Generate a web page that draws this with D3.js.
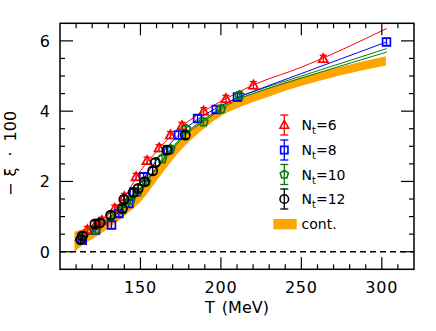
<!DOCTYPE html>
<html><head><meta charset="utf-8">
<script src="https://cdn.jsdelivr.net/npm/d3@7"></script>
<style>body{margin:0;background:#fff}svg{display:block}text{font-family:"DejaVu Sans",sans-serif}</style>
</head><body><svg id="c" width="436" height="331"></svg>
<script>
// ---- data ----
const xTicks = [150, 200, 250, 300];
const yTicks = [0, 2, 4, 6];

const T6  = [112.5, 117, 122, 126, 134, 140, 147.3, 154.1, 161.6, 168.6, 175.8, 189.3, 203.1, 220.2, 263.6];
const v6  = [0.42, 0.62, 0.75, 0.88, 1.23, 1.56, 2.13, 2.59, 2.95, 3.32, 3.58, 4.00, 4.35, 4.74, 5.49];
const e6  = [0.10, 0.10, 0.10, 0.10, 0.10, 0.10, 0.10, 0.10, 0.10, 0.10, 0.10, 0.10, 0.10, 0.10, 0.10];

const T8  = [113.8, 122.1, 132, 136.6, 142.8, 146, 152, 167, 173.7, 185.5, 197.1, 210.3, 302.9];
const v8  = [0.33, 0.62, 0.76, 1.09, 1.37, 1.70, 2.13, 2.90, 3.32, 3.79, 4.05, 4.40, 5.97];
const e8  = [0.10, 0.10, 0.10, 0.10, 0.10, 0.10, 0.10, 0.10, 0.10, 0.10, 0.10, 0.10, 0.10];

const T10 = [113, 122, 131.4, 139, 143.8, 148.3, 153.5, 163.4, 168.6, 178.3, 189.2, 200, 211.5];
const v10 = [0.33, 0.62, 1.01, 1.20, 1.47, 1.70, 1.99, 2.64, 2.92, 3.49, 3.69, 4.06, 4.45];
const e10 = [0.10, 0.10, 0.10, 0.10, 0.10, 0.10, 0.10, 0.10, 0.10, 0.10, 0.10, 0.10, 0.10];

const T12 = [112.9, 114, 121.7, 124.8, 131.5, 138.7, 139.7, 145.5, 148.6, 152.5, 157.6, 159.3, 166.5, 177.9];
const v12 = [0.35, 0.45, 0.79, 0.82, 1.04, 1.23, 1.49, 1.68, 1.80, 1.99, 2.30, 2.54, 2.89, 3.32];
const e12 = [0.10, 0.10, 0.10, 0.10, 0.10, 0.10, 0.10, 0.10, 0.10, 0.10, 0.10, 0.10, 0.10, 0.10];

// fit curves (knots)
const fitT    = [110, 120, 130, 140, 150, 160, 170, 180, 190, 200, 210, 220, 250, 303];
const fit6    = [0.35, 0.70, 1.05, 1.55, 2.30, 2.85, 3.35, 3.72, 4.02, 4.28, 4.52, 4.74, 5.25, 6.35];
const fit8    = [0.25, 0.55, 0.85, 1.30, 1.95, 2.60, 3.15, 3.58, 3.90, 4.15, 4.38, 4.56, 5.07, 5.97];
const fit10a  = [0.30, 0.58, 0.95, 1.32, 1.82, 2.40, 2.98, 3.45, 3.78, 4.10, 4.38, 4.55, 5.00, 5.78];
const fit10b  = [0.28, 0.55, 0.92, 1.28, 1.77, 2.35, 2.93, 3.40, 3.73, 4.05, 4.33, 4.50, 4.94, 5.68];

// continuum band
const bandT  = [109, 115, 120, 130, 140, 150, 160, 170, 180, 190, 200, 210, 230, 250, 275, 302.5];
const bandLo = [0.00, 0.22, 0.36, 0.66, 1.02, 1.42, 2.02, 2.62, 3.12, 3.52, 3.86, 4.08, 4.42, 4.72, 5.03, 5.30];
const bandHi = [0.57, 0.66, 0.75, 1.00, 1.38, 1.82, 2.42, 2.98, 3.43, 3.78, 4.10, 4.33, 4.67, 4.97, 5.27, 5.56];

const legendLabels = ["6", "8", "10", "12"];
const contLabel = "cont.";

// ---- drawing ----
const svg = d3.select("#c");
const x = d3.scaleLinear().domain([100, 320]).range([60, 414]);
const y = d3.scaleLinear().domain([-0.5, 6.5]).range([269.3, 23.3]);

const RED = "#ff0000", BLUE = "#0000ff", GREEN = "#0a7a0a", BLACK = "#000000", ORANGE = "#ffa500";

// band
const bandData = bandT.map((t, i) => ({t, lo: bandLo[i], hi: bandHi[i]}));
svg.append("path").datum(bandData)
  .attr("d", d3.area().x(d => x(d.t)).y0(d => y(d.lo)).y1(d => y(d.hi)).curve(d3.curveMonotoneX))
  .attr("fill", ORANGE);

// zero dashed line
svg.append("line").attr("x1", x(100)).attr("x2", x(320)).attr("y1", y(0)).attr("y2", y(0))
  .attr("stroke", "#000").attr("stroke-width", 1.5).attr("stroke-dasharray", "6,4");

// fit lines
const lineGen = d3.line().x((d, i) => x(fitT[i])).y(d => y(d)).curve(d3.curveMonotoneX);
[[fit10b, GREEN], [fit10a, GREEN], [fit8, BLUE], [fit6, RED]].forEach(([arr, c]) => {
  svg.append("path").datum(arr).attr("d", lineGen).attr("fill", "none").attr("stroke", c).attr("stroke-width", 1);
});

// marker shapes
function markerPath(kind, r) {
  if (kind === "tri") return `M0,${-r*1.05}L${r*1.0},${r*0.75}L${-r*1.0},${r*0.75}Z`;
  if (kind === "sq") return `M${-r*0.85},${-r*0.85}h${r*1.7}v${r*1.7}h${-r*1.7}Z`;
  if (kind === "pent") {
    let p = "";
    for (let k = 0; k < 5; k++) {
      const a = -Math.PI/2 + k*2*Math.PI/5;
      p += (k ? "L" : "M") + (r*Math.cos(a)).toFixed(2) + "," + (r*Math.sin(a)).toFixed(2);
    }
    return p + "Z";
  }
  return d3.arc()({innerRadius: 0, outerRadius: r, startAngle: 0, endAngle: 2*Math.PI});
}

function drawSeries(Ts, vs, es, color, kind) {
  const g = svg.append("g");
  Ts.forEach((t, i) => {
    const cx = x(t), cy = y(vs[i]), top = y(vs[i] + es[i]), bot = y(vs[i] - es[i]);
    g.append("line").attr("x1", cx).attr("x2", cx).attr("y1", top).attr("y2", bot).attr("stroke", color).attr("stroke-width", 1.3);
    g.append("line").attr("x1", cx-3.5).attr("x2", cx+3.5).attr("y1", top).attr("y2", top).attr("stroke", color).attr("stroke-width", 1.3);
    g.append("line").attr("x1", cx-3.5).attr("x2", cx+3.5).attr("y1", bot).attr("y2", bot).attr("stroke", color).attr("stroke-width", 1.3);
    g.append("path").attr("d", markerPath(kind, 4.6)).attr("transform", `translate(${cx},${cy})`)
      .attr("fill", "none").attr("stroke", color).attr("stroke-width", 1.7);
  });
}
drawSeries(T6, v6, e6, RED, "tri");
drawSeries(T8, v8, e8, BLUE, "sq");
drawSeries(T10, v10, e10, GREEN, "pent");
drawSeries(T12, v12, e12, BLACK, "circ");

// frame
svg.append("rect").attr("x", x(100)).attr("y", y(6.5)).attr("width", x(320)-x(100)).attr("height", y(-0.5)-y(6.5))
  .attr("fill", "none").attr("stroke", "#000").attr("stroke-width", 1.5);

// ticks (inward, mirrored)
const tk = svg.append("g").attr("stroke", "#000").attr("stroke-width", 1.2);
d3.range(110, 320, 10).forEach(t => {
  const L = xTicks.includes(t) ? 12 : 5;
  tk.append("line").attr("x1", x(t)).attr("x2", x(t)).attr("y1", y(-0.5)).attr("y2", y(-0.5)-L);
  tk.append("line").attr("x1", x(t)).attr("x2", x(t)).attr("y1", y(6.5)).attr("y2", y(6.5)+L);
});
d3.range(0, 6.5, 0.5).forEach(v => {
  const L = yTicks.includes(v) ? 13 : 5;
  tk.append("line").attr("x1", x(100)).attr("x2", x(100)+L).attr("y1", y(v)).attr("y2", y(v));
  tk.append("line").attr("x1", x(320)).attr("x2", x(320)-L).attr("y1", y(v)).attr("y2", y(v));
});

// tick labels
xTicks.forEach(t => svg.append("text").attr("x", x(t)).attr("y", 293).attr("text-anchor", "middle")
  .attr("font-size", 16).attr("letter-spacing", 0.8).text(t));
yTicks.forEach(v => svg.append("text").attr("x", 50).attr("y", y(v)+6).attr("text-anchor", "end")
  .attr("font-size", 16).text(v));

// axis titles
const xt = svg.append("text").attr("x", 237).attr("y", 313).attr("text-anchor", "middle").attr("font-size", 16);
xt.append("tspan").text("T");
xt.append("tspan").attr("dx", 7).text("(MeV)");

const yt = svg.append("text").attr("transform", "translate(16,196) rotate(-90)").attr("font-size", 16);
yt.append("tspan").text("−");
yt.append("tspan").attr("dx", 6).text("ξ");
yt.append("tspan").attr("dx", 6).text(" · ");
yt.append("tspan").attr("dx", 5).text("100");

// legend
const legColors = [RED, BLUE, GREEN, BLACK], legKinds = ["tri", "sq", "pent", "circ"];
const legY = [125, 150, 174.5, 199];
legendLabels.forEach((lab, i) => {
  const cx = 284.3, cy = legY[i], c = legColors[i];
  svg.append("line").attr("x1", cx).attr("x2", cx).attr("y1", cy-10).attr("y2", cy+10).attr("stroke", c).attr("stroke-width", 1.3);
  svg.append("line").attr("x1", cx-4).attr("x2", cx+4).attr("y1", cy-10).attr("y2", cy-10).attr("stroke", c).attr("stroke-width", 1.3);
  svg.append("line").attr("x1", cx-4).attr("x2", cx+4).attr("y1", cy+10).attr("y2", cy+10).attr("stroke", c).attr("stroke-width", 1.3);
  svg.append("path").attr("d", markerPath(legKinds[i], 4.3)).attr("transform", `translate(${cx},${cy})`)
    .attr("fill", "none").attr("stroke", c).attr("stroke-width", 1.6);
  const tx = svg.append("text").attr("x", 301.5).attr("y", cy+5).attr("font-size", 14);
  tx.append("tspan").text("N");
  tx.append("tspan").attr("font-size", 10).attr("dy", 4).text("t");
  tx.append("tspan").attr("dy", -4).text("=" + lab);
});
svg.append("rect").attr("x", 273.3).attr("y", 219).attr("width", 23.4).attr("height", 10.3).attr("fill", ORANGE);
svg.append("text").attr("x", 301.5).attr("y", 229).attr("font-size", 14).text(contLabel);
</script></body></html>
